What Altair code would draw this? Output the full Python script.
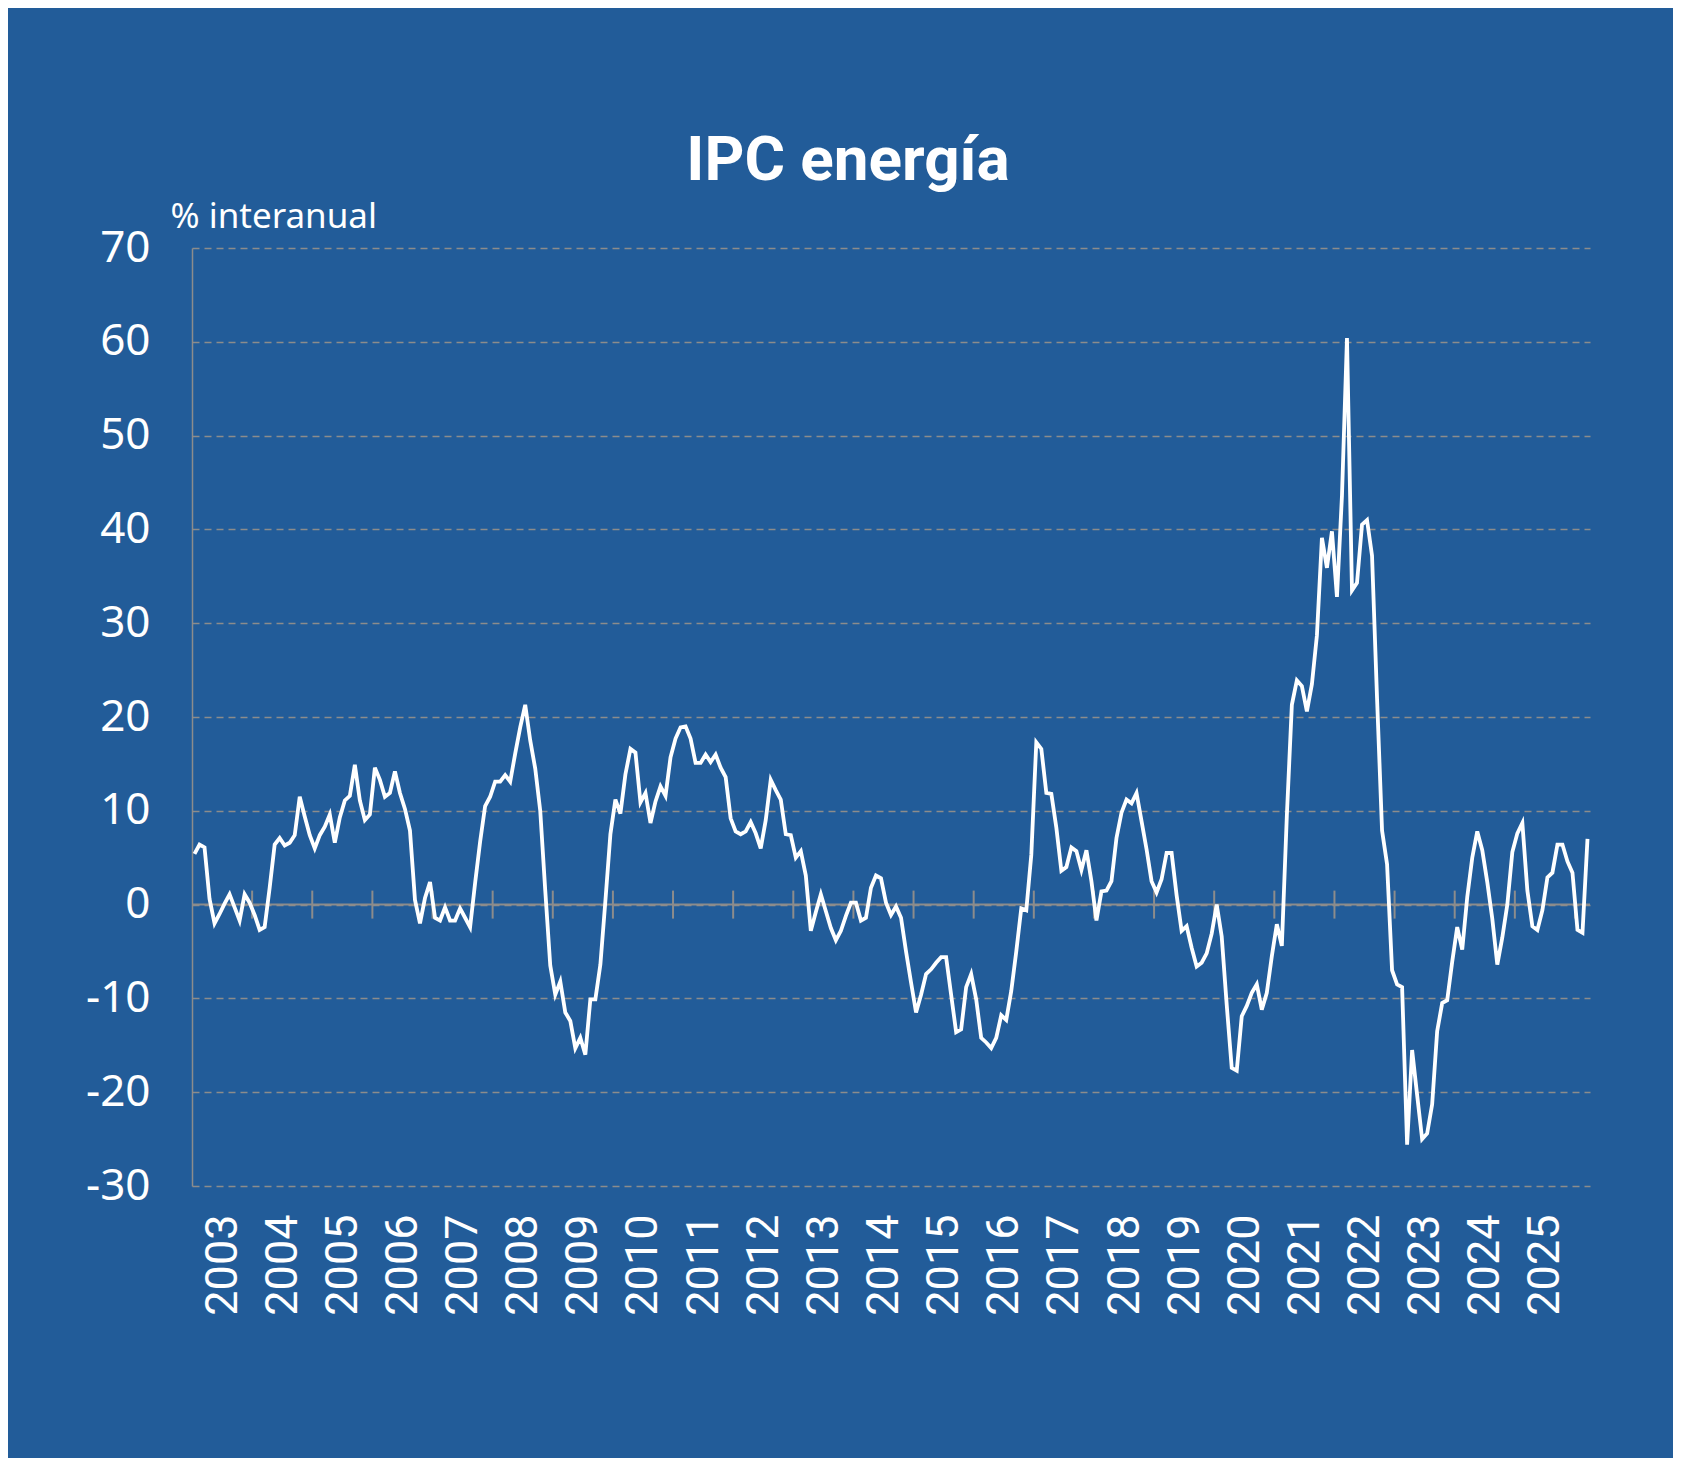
import altair as alt
import pandas as pd

# ---- data: Spanish energy CPI, % year-on-year, monthly from Jan 2003 ----
v2003 = [5.4, 6.4, 6.1, 0.6, -2.0, -1.0, 0.1, 1.1, -0.3, -1.7, 1.1, 0.2]
v2004 = [-1.1, -2.7, -2.4, 1.8, 6.4, 7.1, 6.3, 6.6, 7.4, 11.5, 9.4, 7.4]
v2005 = [6.0, 7.4, 8.3, 9.6, 6.6, 9.3, 11.1, 11.6, 14.9, 11.1, 9.0, 9.6]
v2006 = [14.6, 13.3, 11.5, 11.9, 14.2, 11.9, 10.2, 7.9, 0.5, -2.0, 0.7, 2.4]
v2007 = [-1.4, -1.7, -0.3, -1.7, -1.7, -0.4, -1.4, -2.4, 2.3, 6.7, 10.5, 11.5]
v2008 = [13.1, 13.1, 13.8, 13.1, 16.1, 18.9, 21.3, 17.5, 14.5, 10.0, 1.5, -6.5]
v2009 = [-9.6, -8.2, -11.5, -12.4, -15.3, -14.2, -16.0, -10.1, -10.1, -6.4, 0.4, 7.5]
v2010 = [11.2, 9.7, 13.9, 16.6, 16.2, 10.9, 11.9, 8.7, 11.0, 12.6, 11.6, 15.7]
v2011 = [17.7, 18.9, 19.0, 17.7, 15.1, 15.1, 16.0, 15.2, 16.0, 14.6, 13.6, 9.2]
v2012 = [7.8, 7.5, 7.8, 8.8, 7.6, 6.0, 9.0, 13.3, 12.2, 11.2, 7.5, 7.4]
v2013 = [5.0, 5.7, 3.1, -2.8, -0.8, 1.1, -0.7, -2.5, -3.8, -2.8, -1.2, 0.2]
v2014 = [0.2, -1.7, -1.4, 1.8, 3.1, 2.8, 0.2, -1.1, -0.2, -1.4, -5.0, -8.3]
v2015 = [-11.5, -9.6, -7.4, -6.9, -6.2, -5.6, -5.6, -9.6, -13.6, -13.3, -8.8, -7.4]
v2016 = [-10.1, -14.2, -14.7, -15.3, -14.2, -11.8, -12.3, -9.2, -5.0, -0.4, -0.6, 5.3]
v2017 = [17.3, 16.6, 11.9, 11.8, 8.2, 3.6, 4.0, 6.1, 5.7, 3.7, 5.8, 2.5]
v2018 = [-1.7, 1.4, 1.5, 2.5, 7.1, 9.8, 11.2, 10.8, 11.9, 8.9, 5.9, 2.5]
v2019 = [1.3, 2.7, 5.5, 5.5, 1.0, -2.8, -2.3, -4.6, -6.6, -6.2, -5.2, -3.1]
v2020 = [0.0, -3.4, -10.7, -17.4, -17.7, -11.9, -10.8, -9.4, -8.5, -11.2, -9.4, -5.5]
v2021 = [-2.1, -4.4, 9.5, 21.3, 23.9, 23.3, 20.6, 23.5, 28.7, 39.1, 35.9, 39.8]
v2022 = [32.8, 43.6, 60.4, 33.5, 34.3, 40.5, 41.0, 37.2, 22.0, 7.9, 4.3, -7.0]
v2023 = [-8.5, -8.8, -25.6, -15.5, -20.3, -25.0, -24.4, -21.3, -13.5, -10.5, -10.2, -6.1]
v2024 = [-2.4, -4.8, 0.8, 5.0, 7.8, 5.8, 2.4, -1.5, -6.4, -3.5, 0.0, 5.6]
v2025 = [7.6, 8.7, 1.5, -2.3, -2.7, -0.6, 2.9, 3.4, 6.4, 6.4, 4.6, 3.4]
v2026 = [-2.7, -3.0, 7.0]

year_labels = ["2003", "2004", "2005", "2006", "2007", "2008", "2009", "2010",
               "2011", "2012", "2013", "2014", "2015", "2016", "2017", "2018",
               "2019", "2020", "2021", "2022", "2023", "2024", "2025"]
y_ticks = [-30, -20, -10, 0, 10, 20, 30, 40, 50, 60, 70]

series = (v2003 + v2004 + v2005 + v2006 + v2007 + v2008 + v2009 + v2010 + v2011
          + v2012 + v2013 + v2014 + v2015 + v2016 + v2017 + v2018 + v2019 + v2020
          + v2021 + v2022 + v2023 + v2024 + v2025 + v2026)

n_cat = 279  # monthly categories on the axis (Jan 2003 .. Mar 2026)
df = pd.DataFrame({"m": [i + 0.5 for i in range(len(series))], "v": series})
year_mid = [12 * k + 6 for k in range(len(year_labels))]
year_bounds = pd.DataFrame({"m": [12 * k for k in range(1, len(year_labels) + 1)]})
zero_df = pd.DataFrame({"v": [0]})

BG = "#225C99"
GRAY = "#8C8C8C"

label_js = "[" + ",".join("'%s'" % y for y in year_labels) + "][floor(datum.value / 12)]"

xscale = alt.Scale(domain=[0, n_cat], nice=False, zero=False)
yscale = alt.Scale(domain=[-30, 70], nice=False, zero=False)

xaxis = alt.Axis(values=year_mid, labelExpr=label_js, labelAngle=270,
                 labelPadding=28, labelFont="Roboto", labelFontSize=45,
                 labelColor="white", domain=False, ticks=False, tickSize=0,
                 grid=False, labelOverlap=False)
yaxis = alt.Axis(values=y_ticks, labelExpr="'' + datum.value",
                 labelFont="Noto Sans", labelFontSize=44,
                 labelColor="white", labelPadding=42, ticks=False, tickSize=0,
                 domain=True, domainColor=GRAY, domainWidth=1.5,
                 grid=True, gridColor=GRAY, gridDash=[7, 5], gridWidth=1.5,
                 titleAngle=0, titleAlign="left", titleBaseline="alphabetic",
                 titleX=-22, titleY=-21, titleFont="Noto Sans", titleFontSize=35,
                 titleFontWeight="normal", titleColor="white")

zero_line = alt.Chart(zero_df).mark_rule(color=GRAY, strokeWidth=2).encode(
    y=alt.Y("v:Q", scale=yscale, axis=yaxis, title="% interanual")
)

year_ticks = alt.Chart(year_bounds).mark_rule(
    color=GRAY, strokeWidth=2, yOffset=-14, y2Offset=14
).encode(
    x=alt.X("m:Q", scale=xscale, axis=xaxis, title=None),
    y=alt.datum(0),
    y2=alt.datum(0),
)

line = alt.Chart(df).mark_line(color="white", strokeWidth=3.8).encode(
    x=alt.X("m:Q", scale=xscale, axis=xaxis, title=None),
    y=alt.Y("v:Q", scale=yscale, axis=yaxis, title="% interanual"),
)

chart = alt.layer(zero_line, year_ticks, line).properties(
    width=1398,
    height=938,
    background=BG,
    padding={"left": 184, "top": 240, "right": 83, "bottom": 272},
    autosize=alt.AutoSizeParams(type="none"),
    title=alt.TitleParams(
        "IPC energía", font="Roboto", fontSize=62, fontWeight="bold",
        color="white", anchor="middle", frame="group", dx=-43, dy=61,
        offset=18, baseline="alphabetic",
    ),
).configure_view(stroke=None)

chart.save("out.html", embed_options={"renderer": "svg", "actions": False})
